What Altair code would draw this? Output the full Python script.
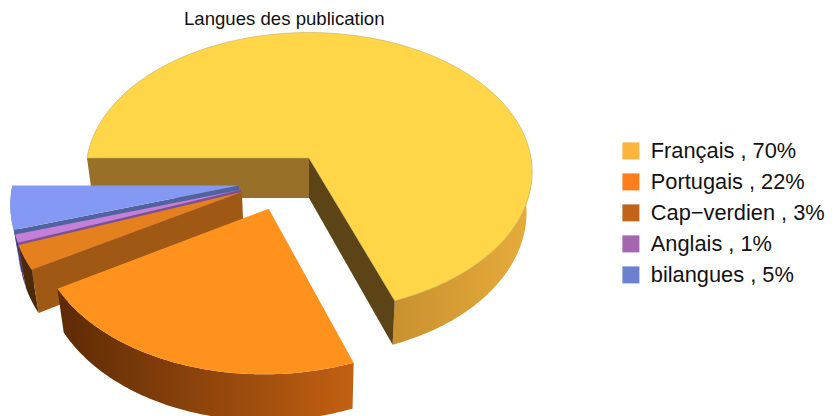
import math
import altair as alt
import pandas as pd

# --- chart values
labels = ["Français , 70%", "Portugais , 22%", "Cap−verdien , 3%", "Anglais , 1%", "bilangues , 5%"]
shares = [70, 22.4, 2.8, 0.9, 4.9]
legend_colors = ["#FBB53C", "#FF7D1A", "#BF6418", "#A466AE", "#6C80D0"]
top_colors = ["#FFD647", "#FF921D", "#E5801E", "#C47FD8", "#8499F4"]
radial_colors = ["#5C4417", "#5C2A05", "#A05914", "#7F4F8F", "#50629F"]
outer_colors = [("#C9912F", "#E6AC3B"), ("#5C2A05", "#C26012"), ("#4A2A08", "#4A2A08"),
                ("#4A2F60", "#4A2F60"), ("#50629F", "#50629F")]
explode = [(0.0, 0.0), (-0.175, 0.355), (-0.295, 0.24), (-0.30, 0.225), (-0.31, 0.195)]

# --- 3D view of the pie (reference pixels)
CX, CY = 309.0, 158.0
A, B, C, H, KX = 222.0, 138.0, 0.10, 40.0, 0.975


def project(X, Z, bottom=False):
    s = 1.0 / (1.0 - C * Z)
    if bottom:
        return CX + A * X * s * KX, CY + (B * Z + H) * s
    return CX + A * X * s, CY + B * Z * s


def arc(a0, a1, off, bottom=False, n=90):
    pts = []
    for k in range(n + 1):
        t = math.radians(a0 + (a1 - a0) * k / n)
        pts.append(project(off[0] + math.cos(t), off[1] + math.sin(t), bottom))
    return pts


total = float(sum(shares))
edges = [-180.0]
for v in shares:
    edges.append(edges[-1] + 360.0 * v / total)

xs = alt.Scale(domain=[8, 827], range=[0, 819])
ys = alt.Scale(domain=[8, 416], range=[0, 408])


def poly(points, fill, stroke=None):
    df = pd.DataFrame({"x": [p[0] for p in points], "y": [p[1] for p in points],
                       "i": list(range(len(points)))})
    kw = {"fill": fill, "strokeWidth": 0.6 if stroke else 0}
    if stroke:
        kw["stroke"] = stroke
    else:
        kw["strokeOpacity"] = 0
    return alt.Chart(df).mark_line(**kw).encode(
        x=alt.X("x:Q", scale=xs, axis=None),
        y=alt.Y("y:Q", scale=ys, axis=None),
        order=alt.Order("i:Q"),
    )


def grad(c0, c1):
    return alt.Gradient(gradient="linear", x1=0, x2=1, y1=0, y2=0,
                        stops=[alt.GradientStop(color=c0, offset=0),
                               alt.GradientStop(color=c1, offset=1)])


def wedge(i, first_wall_edge):
    a0, a1 = edges[i], edges[i + 1]
    off = explode[i]
    layers = []
    o0 = max(a0, 0.0)
    outer = arc(o0, a1, off) + arc(o0, a1, off, True)[::-1]
    layers.append(poly(outer, grad(*outer_colors[i])))
    apex_t, apex_b = project(*off), project(*off, True)
    t = math.radians(first_wall_edge)
    ex, ez = off[0] + math.cos(t), off[1] + math.sin(t)
    layers.append(poly([apex_t, project(ex, ez), project(ex, ez, True), apex_b], radial_colors[i]))
    return layers


layers = []
# Français
layers += wedge(0, edges[1])
layers.append(poly([project(-1, 0), project(0, 0), project(0, 0, True), project(-1, 0, True)], "#987029"))
layers.append(poly([project(0, 0)] + arc(edges[0], edges[1], explode[0]) + [project(0, 0)], top_colors[0], "#C8AE55"))
# small slices and Portugais, back to front
for i in [4, 3, 2, 1]:
    if i != 1:
        layers += wedge(i, edges[i])
    else:
        a0, a1 = edges[1], edges[2]
        layers.append(poly(arc(a0, a1, explode[1]) + arc(a0, a1, explode[1], True)[::-1], grad(*outer_colors[1])))
    layers.append(poly([project(*explode[i])] + arc(edges[i], edges[i + 1], explode[i]), top_colors[i]))

legend_df = pd.DataFrame({"langue": labels, "x": [300] * 5, "y": [100] * 5})
legend_layer = alt.Chart(legend_df).mark_point(filled=True, size=0, opacity=1).encode(
    x=alt.X("x:Q", scale=xs, axis=None),
    y=alt.Y("y:Q", scale=ys, axis=None),
    color=alt.Color("langue:N", scale=alt.Scale(domain=labels, range=legend_colors),
                    legend=alt.Legend(title=None, orient="none", legendX=612, legendY=132,
                                      symbolType="square", symbolSize=289, symbolStrokeWidth=0,
                                      symbolOpacity=1, labelFontSize=21.8, labelFont="Liberation Sans",
                                      labelColor="#111111", rowPadding=8, labelOffset=9,
                                      labelLimit=300)),
)

chart = alt.layer(*layers, legend_layer).properties(
    width=819, height=408, padding=0, autosize=alt.AutoSizeParams(type="none"),
    title=alt.TitleParams("Langues des publication", anchor="start", dx=176, dy=21, offset=0,
                          font="Liberation Sans", fontSize=18.6, fontWeight="normal", color="#111111"),
).configure_view(stroke=None).resolve_scale(color="independent")

chart.save("out.html", embed_options={"renderer": "svg", "actions": False})
